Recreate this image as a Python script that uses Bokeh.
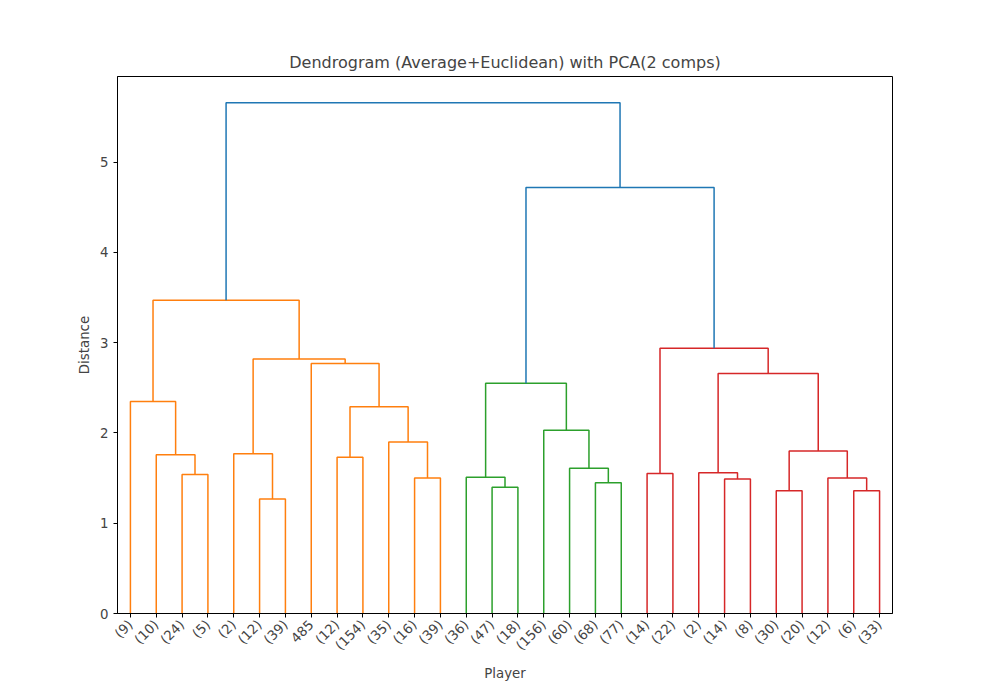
from bokeh.plotting import figure
from bokeh.models import FixedTicker, Range1d
from bokeh.embed import file_html
from bokeh.resources import INLINE
import math

leaf_labels = ["(9)", "(10)", "(24)", "(5)", "(2)", "(12)", "(39)", "485", "(12)", "(154)",
               "(35)", "(16)", "(39)", "(36)", "(47)", "(18)", "(156)", "(60)", "(68)", "(77)",
               "(14)", "(22)", "(2)", "(14)", "(8)", "(30)", "(20)", "(12)", "(6)", "(33)"]

# merges: (left node, right node, height, colour group); new nodes numbered from 30
merge_left = [2, 1, 0, 5, 4, 8, 11, 10, 35, 7, 34, 32, 14, 13, 18, 17, 16, 43,
              20, 23, 22, 25, 28, 27, 51, 50, 48, 47, 41]
merge_right = [3, 30, 31, 6, 33, 9, 12, 36, 37, 38, 39, 40, 15, 42, 19, 44, 45, 46,
               21, 24, 49, 26, 29, 52, 53, 54, 55, 56, 57]
heights = [1.54, 1.76, 2.35, 1.27, 1.77, 1.73, 1.50, 1.90, 2.29, 2.77, 2.82, 3.47,
           1.40, 1.51, 1.45, 1.61, 2.03, 2.55,
           1.55, 1.49, 1.56, 1.36, 1.36, 1.50, 1.80, 2.66, 2.94,
           4.72, 5.66]
groups = ["o"] * 12 + ["g"] * 6 + ["r"] * 9 + ["b"] * 2
palette = {"o": "#ff7f0e", "g": "#2ca02c", "r": "#d62728", "b": "#1f77b4"}

n = len(leaf_labels)
pos = {i: 10 * i + 5 for i in range(n)}
hgt = {i: 0.0 for i in range(n)}
xs, ys, cols = [], [], []
for k, (a, b, h, g) in enumerate(zip(merge_left, merge_right, heights, groups)):
    xa, xb = pos[a], pos[b]
    xs.append([xa, xa, xb, xb])
    ys.append([hgt[a], h, h, hgt[b]])
    cols.append(palette[g])
    pos[n + k] = (xa + xb) / 2
    hgt[n + k] = h

p = figure(width=984, height=684, output_backend="svg", toolbar_location=None,
           x_range=Range1d(0, 300), y_range=Range1d(0, 5.95),
           title="Dendrogram (Average+Euclidean) with PCA(2 comps)",
           x_axis_label="Player", y_axis_label="Distance",
           min_border_left=117, min_border_right=92, min_border_top=76, min_border_bottom=69)
p.multi_line(xs=xs, ys=ys, line_color=cols, line_width=1.5)

p.title.align = "center"
p.title.text_font = "DejaVu Sans"
p.title.text_font_size = "12pt"
p.title.text_font_style = "normal"
p.grid.visible = False
p.outline_line_color = "black"
p.xaxis.ticker = FixedTicker(ticks=[10 * i + 5 for i in range(n)])
p.xaxis.major_label_overrides = {10 * i + 5: lab for i, lab in enumerate(leaf_labels)}
p.xaxis.major_label_orientation = math.pi / 4
p.yaxis.ticker = FixedTicker(ticks=[0, 1, 2, 3, 4, 5])
for ax in (p.xaxis, p.yaxis):
    ax.major_label_text_font = "DejaVu Sans"
    ax.major_label_text_font_size = "10pt"
    ax.axis_label_text_font = "DejaVu Sans"
    ax.axis_label_text_font_size = "10pt"
    ax.axis_label_text_font_style = "normal"
    ax.minor_tick_line_color = None
    ax.axis_line_color = "black"
    ax.major_tick_in = 0
    ax.major_tick_out = 4

open("out.html", "w").write(file_html(p, INLINE))
